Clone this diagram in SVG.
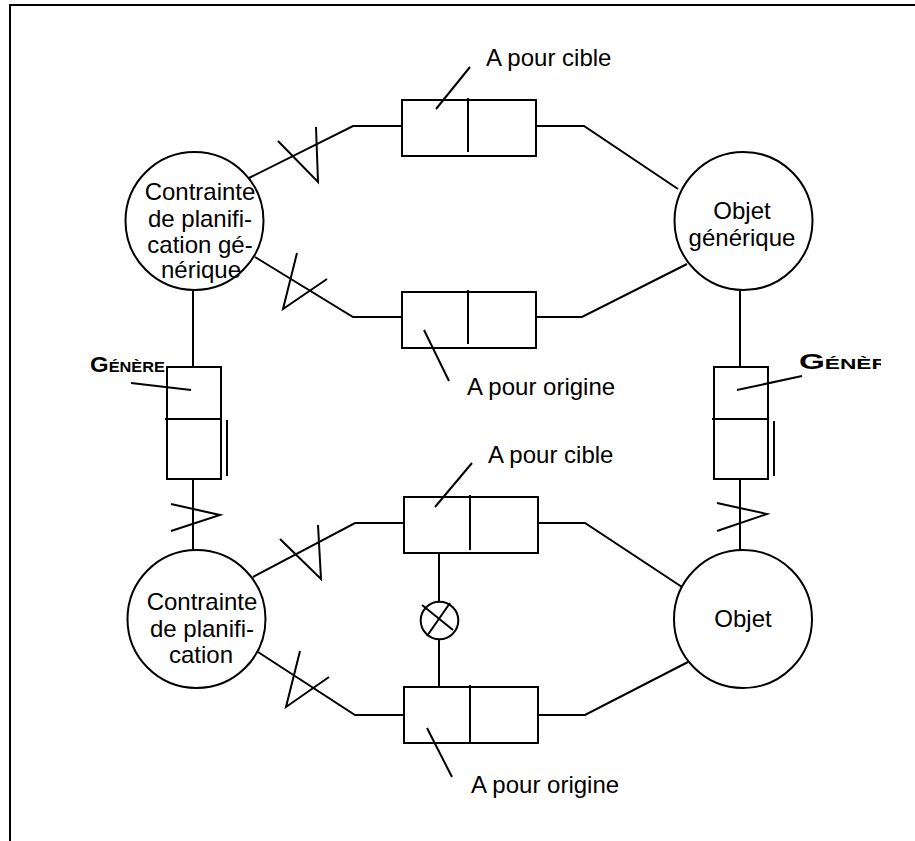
<svg xmlns="http://www.w3.org/2000/svg" width="915" height="841" viewBox="0 0 915 841">
<defs>
<style>
.ln{fill:none;stroke:#000;stroke-width:2}
.bx{fill:#fff;stroke:#000;stroke-width:2}
.t{font-family:"Liberation Sans",Arial,sans-serif;font-size:24px;fill:#000}
.c{text-anchor:middle}
.g{font-family:"Liberation Sans",Arial,sans-serif;font-size:22px;font-weight:bold;font-variant:small-caps;fill:#000}
</style>
<clipPath id="clipR"><rect x="0" y="0" width="881" height="841"/></clipPath>
</defs>
<rect x="0" y="0" width="915" height="841" fill="#fff"/>
<path class="ln" d="M10,841 V5 H915"/>

<g id="connectors">
<polyline class="ln" points="249,178 353,126 402,126"/>
<polyline class="ln" points="278,141 318,182 316,127"/>
<polyline class="ln" points="255,257 353,317 402,317"/>
<polyline class="ln" points="297,253 283,309 327,279"/>
<polyline class="ln" points="534,126 584,126 678,189"/>
<polyline class="ln" points="534,317 582,317 687,264"/>
<line class="ln" x1="193" y1="289" x2="193" y2="367"/>
<line class="ln" x1="193" y1="479" x2="193" y2="551"/>
<polyline class="ln" points="171,504 220,515 171,531"/>
<line class="ln" x1="740" y1="289" x2="740" y2="367"/>
<line class="ln" x1="740" y1="479" x2="740" y2="551"/>
<polyline class="ln" points="717,503 767,514 717,531"/>
<polyline class="ln" points="253,577 355,523 404,523"/>
<polyline class="ln" points="280,539 321,579 318,525"/>
<polyline class="ln" points="258,652 355,715 404,715"/>
<polyline class="ln" points="300,651 286,707 329,677"/>
<polyline class="ln" points="537,523 585,523 682,587"/>
<polyline class="ln" points="537,715 585,715 688,662"/>
<line class="ln" x1="439" y1="553" x2="439" y2="602"/>
<line class="ln" x1="439" y1="639" x2="439" y2="687"/>
</g>

<g id="node-contrainte-generique">
<circle class="bx" cx="194.5" cy="221" r="69"/>
<text class="t c" x="200" y="200">Contrainte</text>
<text class="t c" x="200" y="227">de planifi-</text>
<text class="t c" x="200" y="253">cation gé-</text>
<text class="t c" x="201" y="278">nérique</text>
</g>

<g id="node-objet-generique">
<circle class="bx" cx="743.5" cy="221" r="69"/>
<text class="t c" x="742" y="219">Objet</text>
<text class="t c" x="742" y="246">générique</text>
</g>

<g id="node-contrainte">
<circle class="bx" cx="196.5" cy="619" r="69"/>
<text class="t c" x="202" y="610">Contrainte</text>
<text class="t c" x="202" y="637">de planifi-</text>
<text class="t c" x="201" y="663">cation</text>
</g>

<g id="node-objet">
<circle class="bx" cx="743" cy="619" r="69"/>
<text class="t c" x="743" y="627">Objet</text>
</g>

<g id="rel-cible-haut">
<rect class="bx" x="402" y="100" width="134" height="56"/>
<line class="ln" x1="468" y1="98" x2="468" y2="152"/>
<line class="ln" x1="436" y1="109" x2="470" y2="67"/>
<text class="t" x="486" y="66">A pour cible</text>
</g>

<g id="rel-origine-haut">
<rect class="bx" x="402" y="292" width="134" height="56"/>
<line class="ln" x1="468" y1="290" x2="468" y2="344"/>
<line class="ln" x1="424" y1="330" x2="449" y2="381"/>
<text class="t" x="467" y="395">A pour origine</text>
</g>

<g id="rel-cible-bas">
<rect class="bx" x="404" y="497" width="134" height="56"/>
<line class="ln" x1="470" y1="495" x2="470" y2="550"/>
<line class="ln" x1="435" y1="507" x2="472" y2="463"/>
<text class="t" x="488" y="463">A pour cible</text>
</g>

<g id="rel-origine-bas">
<rect class="bx" x="404" y="687" width="134" height="56"/>
<line class="ln" x1="470" y1="685" x2="470" y2="743"/>
<line class="ln" x1="427" y1="728" x2="452" y2="777"/>
<text class="t" x="471" y="793">A pour origine</text>
</g>

<g id="xor">
<circle class="bx" cx="439.5" cy="620.5" r="18.8"/>
<line class="ln" x1="422" y1="605" x2="453" y2="630"/>
<line class="ln" x1="427" y1="636" x2="450" y2="603"/>
</g>

<g id="genere-gauche">
<rect class="bx" x="167" y="367" width="54" height="112"/>
<line class="ln" x1="165" y1="419" x2="221" y2="419"/>
<line class="ln" x1="227" y1="420" x2="227" y2="476"/>
<line class="ln" x1="131" y1="383" x2="191" y2="390"/>
<text class="g" x="90" y="372" textLength="75" lengthAdjust="spacingAndGlyphs">Génère</text>
</g>

<g id="genere-droite">
<rect class="bx" x="714" y="367" width="54" height="112"/>
<line class="ln" x1="712" y1="419" x2="768" y2="419"/>
<line class="ln" x1="774" y1="421" x2="774" y2="476"/>
<line class="ln" x1="737" y1="390" x2="802" y2="376"/>
<text class="g" x="799" y="369" textLength="104" lengthAdjust="spacingAndGlyphs" clip-path="url(#clipR)">Génère</text>
</g>
</svg>
